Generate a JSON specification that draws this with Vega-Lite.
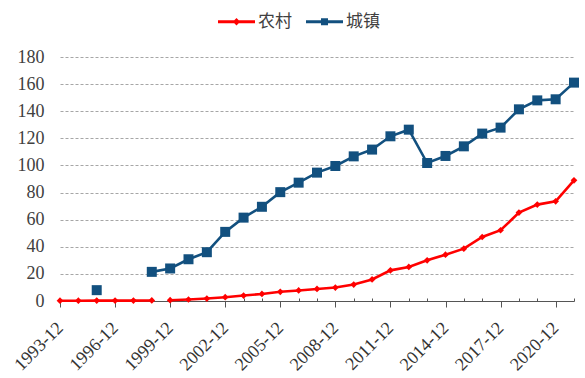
{
  "$schema": "https://vega.github.io/schema/vega-lite/v6.json",
  "width": 514,
  "height": 244,
  "autosize": {"type": "none"},
  "padding": {"left": 60, "top": 57, "right": 11, "bottom": 77},
  "background": "white",
  "config": {"view": {"stroke": null}},
  "data": {"values": [
    {"年月": "1993-12", "类型": "农村", "段": "a", "值": 0.2},
    {"年月": "1994-12", "类型": "农村", "段": "a", "值": 0.2},
    {"年月": "1995-12", "类型": "农村", "段": "a", "值": 0.3},
    {"年月": "1996-12", "类型": "农村", "段": "a", "值": 0.3},
    {"年月": "1997-12", "类型": "农村", "段": "a", "值": 0.3},
    {"年月": "1998-12", "类型": "农村", "段": "a", "值": 0.4},
    {"年月": "1999-12", "类型": "农村", "段": "b", "值": 0.6},
    {"年月": "2000-12", "类型": "农村", "段": "b", "值": 1.1},
    {"年月": "2001-12", "类型": "农村", "段": "b", "值": 1.8},
    {"年月": "2002-12", "类型": "农村", "段": "b", "值": 2.8},
    {"年月": "2003-12", "类型": "农村", "段": "b", "值": 4.0},
    {"年月": "2004-12", "类型": "农村", "段": "b", "值": 5.2},
    {"年月": "2005-12", "类型": "农村", "段": "b", "值": 6.8},
    {"年月": "2006-12", "类型": "农村", "段": "b", "值": 7.8},
    {"年月": "2007-12", "类型": "农村", "段": "b", "值": 8.9},
    {"年月": "2008-12", "类型": "农村", "段": "b", "值": 9.9},
    {"年月": "2009-12", "类型": "农村", "段": "b", "值": 12.1},
    {"年月": "2010-12", "类型": "农村", "段": "b", "值": 15.9},
    {"年月": "2011-12", "类型": "农村", "段": "b", "值": 22.6},
    {"年月": "2012-12", "类型": "农村", "段": "b", "值": 25.1},
    {"年月": "2013-12", "类型": "农村", "段": "b", "值": 30.0},
    {"年月": "2014-12", "类型": "农村", "段": "b", "值": 34.2},
    {"年月": "2015-12", "类型": "农村", "段": "b", "值": 38.6},
    {"年月": "2016-12", "类型": "农村", "段": "b", "值": 47.2},
    {"年月": "2017-12", "类型": "农村", "段": "b", "值": 52.2},
    {"年月": "2018-12", "类型": "农村", "段": "b", "值": 65.2},
    {"年月": "2019-12", "类型": "农村", "段": "b", "值": 71.1},
    {"年月": "2020-12", "类型": "农村", "段": "b", "值": 73.5},
    {"年月": "2021-12", "类型": "农村", "段": "b", "值": 89.0},
    {"年月": "1995-12", "类型": "城镇", "段": "c", "值": 8.0},
    {"年月": "1998-12", "类型": "城镇", "段": "d", "值": 21.5},
    {"年月": "1999-12", "类型": "城镇", "段": "d", "值": 24.0},
    {"年月": "2000-12", "类型": "城镇", "段": "d", "值": 30.8},
    {"年月": "2001-12", "类型": "城镇", "段": "d", "值": 36.0},
    {"年月": "2002-12", "类型": "城镇", "段": "d", "值": 51.0},
    {"年月": "2003-12", "类型": "城镇", "段": "d", "值": 61.5},
    {"年月": "2004-12", "类型": "城镇", "段": "d", "值": 69.5},
    {"年月": "2005-12", "类型": "城镇", "段": "d", "值": 80.3},
    {"年月": "2006-12", "类型": "城镇", "段": "d", "值": 87.3},
    {"年月": "2007-12", "类型": "城镇", "段": "d", "值": 94.7},
    {"年月": "2008-12", "类型": "城镇", "段": "d", "值": 99.6},
    {"年月": "2009-12", "类型": "城镇", "段": "d", "值": 106.7},
    {"年月": "2010-12", "类型": "城镇", "段": "d", "值": 111.7},
    {"年月": "2011-12", "类型": "城镇", "段": "d", "值": 121.5},
    {"年月": "2012-12", "类型": "城镇", "段": "d", "值": 126.4},
    {"年月": "2013-12", "类型": "城镇", "段": "d", "值": 101.8},
    {"年月": "2014-12", "类型": "城镇", "段": "d", "值": 107.0},
    {"年月": "2015-12", "类型": "城镇", "段": "d", "值": 114.1},
    {"年月": "2016-12", "类型": "城镇", "段": "d", "值": 123.5},
    {"年月": "2017-12", "类型": "城镇", "段": "d", "值": 127.9},
    {"年月": "2018-12", "类型": "城镇", "段": "d", "值": 141.4},
    {"年月": "2019-12", "类型": "城镇", "段": "d", "值": 148.0},
    {"年月": "2020-12", "类型": "城镇", "段": "d", "值": 148.8},
    {"年月": "2021-12", "类型": "城镇", "段": "d", "值": 161.1}
  ]},
  "encoding": {
    "x": {
      "field": "年月", "type": "ordinal",
      "scale": {"type": "point", "padding": 0},
      "axis": {
        "title": null,
        "grid": false,
        "domainColor": "#555555",
        "domainWidth": 1,
        "tickColor": "#555555",
        "tickSize": {"condition": {"test": "(toNumber(slice(datum.value,0,4)) - 1993) % 3 == 0", "value": 6}, "value": -3},
        "labelExpr": "(toNumber(slice(datum.value,0,4)) - 1993) % 3 == 0 ? datum.value : ''",
        "labelAngle": -45,
        "labelAlign": "right",
        "labelBaseline": "middle",
        "labelPadding": 18,
        "labelFont": "'Liberation Serif', 'DejaVu Serif', serif",
        "labelFontSize": 18,
        "labelColor": "#333333",
        "labelOverlap": false
      }
    },
    "y": {
      "field": "值", "type": "quantitative",
      "scale": {"domain": [0, 180], "nice": false},
      "axis": {
        "title": null,
        "values": [0, 20, 40, 60, 80, 100, 120, 140, 160, 180],
        "domain": false,
        "ticks": false,
        "gridColor": "#a6a6a6",
        "gridDash": [3, 2],
        "gridWidth": 1,
        "labelPadding": 16,
        "labelFont": "'Liberation Serif', 'DejaVu Serif', serif",
        "labelFontSize": 18,
        "labelColor": "#404040"
      }
    },
    "color": {
      "field": "类型", "type": "nominal",
      "scale": {"domain": ["农村", "城镇"], "range": ["#ff0000", "#12507f"]}
    }
  },
  "layer": [
    {
      "mark": {"type": "line", "strokeWidth": 2.6},
      "encoding": {"detail": {"field": "段"}}
    },
    {
      "transform": [{"filter": "datum['类型'] == '农村'"}],
      "mark": {"type": "point", "shape": "diamond", "filled": true, "size": 45, "opacity": 1}
    },
    {
      "transform": [{"filter": "datum['类型'] == '城镇'"}],
      "mark": {"type": "point", "shape": "square", "filled": true, "size": 100, "opacity": 1}
    },
    {
      "mark": {"type": "point", "filled": true, "size": 0},
      "encoding": {
        "shape": {
          "field": "类型", "type": "nominal",
          "scale": {"domain": ["农村", "城镇"], "range": [
            "M-1,-0.08H1V0.08H-1Z M0,-0.2L0.2,0L0,0.2L-0.2,0Z",
            "M-1,-0.08H1V0.08H-1Z M-0.19,-0.19H0.19V0.19H-0.19Z"
          ]},
          "legend": {
            "title": null, "orient": "none", "direction": "horizontal",
            "legendX": 158, "legendY": -54,
            "symbolSize": 1369, "symbolOpacity": 1, "symbolStrokeWidth": 0,
            "labelFont": "Noto Sans CJK SC", "labelFontSize": 17, "labelColor": "#404040",
            "labelOffset": 3, "columnPadding": 14
          }
        }
      }
    }
  ]
}
